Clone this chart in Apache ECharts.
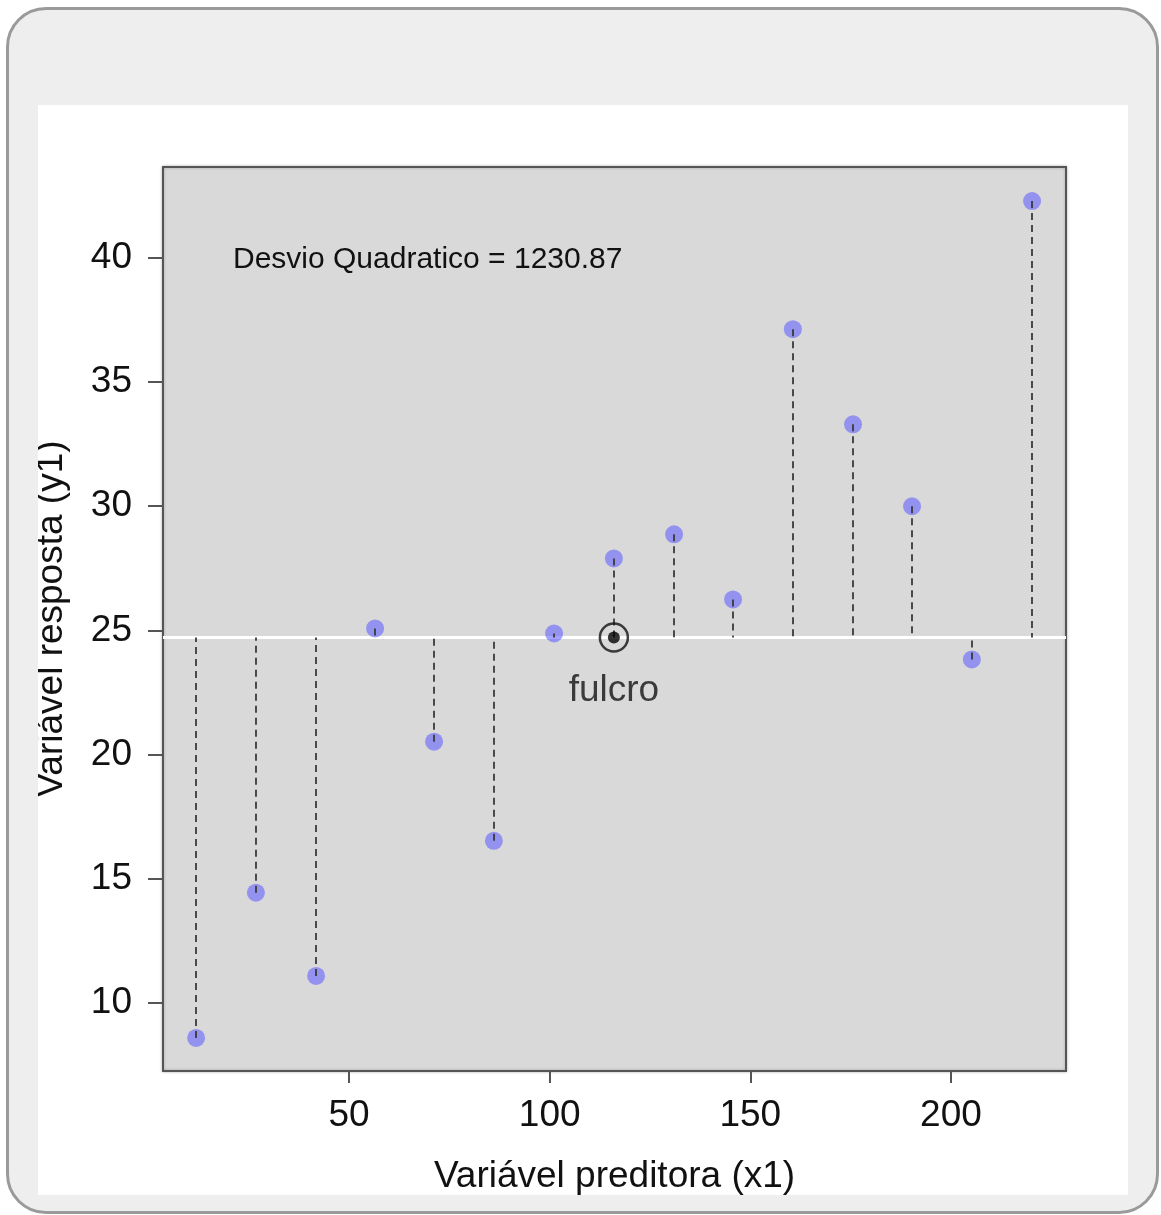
<!DOCTYPE html>
<html>
<head>
<meta charset="utf-8">
<script src="https://cdn.jsdelivr.net/npm/echarts@6/dist/echarts.min.js"></script>
<style>
  html, body { margin: 0; padding: 0; background: #fff; }
  #frame {
    position: absolute; left: 6px; top: 7px; width: 1147px; height: 1201px;
    border: 3px solid #9a9a9a; border-radius: 40px; background: #eeeeee;
  }
  #chart {
    position: absolute; left: 38px; top: 105px; width: 1090px; height: 1090px;
    background: #ffffff;
  }
</style>
</head>
<body>
<div id="frame"></div>
<div id="chart"></div>
<script>
// valores
var x1 = [11.9, 26.8, 41.8, 56.5, 71.2, 86.1, 101.1, 116.0, 131.0, 145.7, 160.6, 175.6, 190.3, 205.2, 220.2];
var y1 = [8.59, 14.44, 11.09, 25.08, 20.52, 16.53, 24.88, 27.9, 28.87, 26.25, 37.13, 33.3, 30.0, 23.83, 42.29];
var xTicks = [50, 100, 150, 200];
var yTicks = [10, 15, 20, 25, 30, 35, 40];
var desvioTexto = 'Desvio Quadratico = 1230.87';

var sx = 0, sy = 0;
for (var i = 0; i < x1.length; i++) { sx += x1[i]; sy += y1[i]; }
var mx = sx / x1.length, my = sy / y1.length;

var pontos = [], residuos = [];
for (var i = 0; i < x1.length; i++) {
    pontos.push([x1[i], y1[i]]);
    residuos.push({ coords: [[x1[i], y1[i]], [x1[i], my]] });
}

var fonte = 'Liberation Sans, Arial, Helvetica, sans-serif';
var chart = echarts.init(document.getElementById('chart'));
var option = {
    animation: false,
    grid: {
        left: 125, top: 62, width: 903, height: 904,
        containLabel: false, outerBoundsMode: 'none',
        show: true, backgroundColor: '#d9d9d9', borderColor: '#555', borderWidth: 2,
        shadowColor: 'rgba(0,0,0,0.25)', shadowBlur: 3
    },
    xAxis: {
        type: 'value', min: 3.65, max: 228.66,
        name: 'Variável preditora (x1)', nameLocation: 'middle', nameGap: 106,
        nameTextStyle: { fontFamily: fonte, fontSize: 37, color: '#111', verticalAlign: 'middle' },
        splitLine: { show: false },
        axisLine: { show: false },
        axisTick: { show: true, customValues: xTicks, length: 12, lineStyle: { color: '#555', width: 2 } },
        axisLabel: { customValues: xTicks, margin: 26, fontFamily: fonte, fontSize: 37, color: '#111' }
    },
    yAxis: {
        type: 'value', min: 7.26, max: 43.66,
        name: 'Variável resposta (y1)', nameLocation: 'middle', nameGap: 111, nameRotate: 90,
        nameTextStyle: { fontFamily: fonte, fontSize: 37, color: '#111', verticalAlign: 'middle' },
        splitLine: { show: false },
        axisLine: { show: false },
        axisTick: { show: true, customValues: yTicks, length: 15, lineStyle: { color: '#555', width: 2 } },
        axisLabel: { customValues: yTicks, margin: 31, fontFamily: fonte, fontSize: 37, color: '#111' }
    },
    graphic: [{
        type: 'text', left: 195, top: 140,
        style: { text: desvioTexto, fontFamily: fonte, fontSize: 30, fill: '#111' }
    }],
    series: [
        {
            type: 'line', data: [], silent: true, z: 1,
            markLine: {
                symbol: 'none', silent: true, label: { show: false }, z: 1,
                lineStyle: { color: '#ffffff', width: 3, type: 'solid' },
                data: [{ yAxis: my }]
            }
        },
        {
            type: 'scatter', data: pontos, symbolSize: 18, silent: true, z: 3,
            itemStyle: { color: 'rgba(95,95,255,0.72)' }
        },
        {
            type: 'lines', coordinateSystem: 'cartesian2d', silent: true, z: 4,
            lineStyle: { color: '#3a3a3a', width: 1.8, type: [7, 5], opacity: 1 },
            data: residuos
        },
        {
            type: 'scatter', data: [[mx, my]], symbolSize: 28, silent: true, z: 10,
            itemStyle: { color: 'rgba(0,0,0,0)', borderColor: '#111', borderWidth: 2.5 },
            label: {
                show: true, position: 'bottom', distance: 20, formatter: 'fulcro',
                fontFamily: fonte, fontSize: 37, color: '#111'
            }
        },
        {
            type: 'scatter', data: [[mx, my]], symbolSize: 12, silent: true, z: 11,
            itemStyle: { color: '#000' }
        }
    ]
};
chart.setOption(option);
</script>
</body>
</html>
